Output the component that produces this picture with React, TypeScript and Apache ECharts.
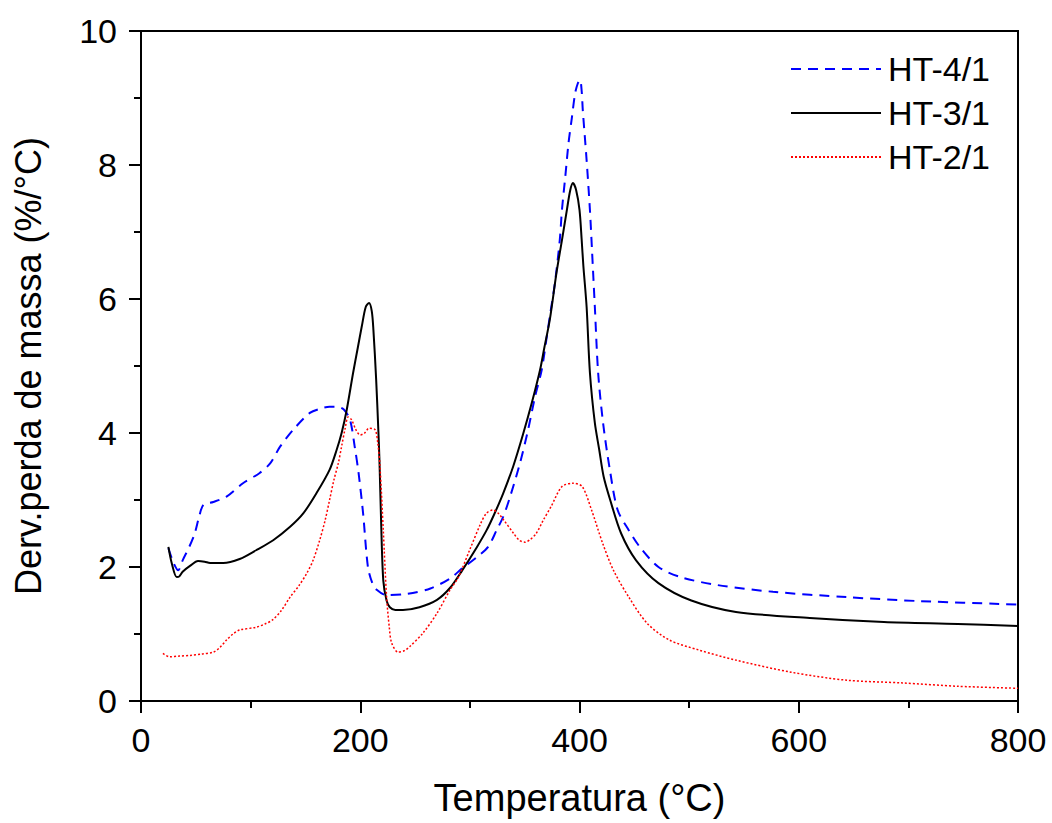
import React, { useEffect, useRef } from "react";
import * as echarts from "echarts";

const seriesNames = ["HT-4/1", "HT-3/1", "HT-2/1"];

const ht41: number[][] = [
  [25, 2.28], [30, 2.05], [34, 1.95], [38, 2.1], [44, 2.3], [49, 2.5], [53, 2.75], [57, 2.93],
  [66, 2.97], [78, 3.05], [93, 3.25], [108, 3.4], [118, 3.55], [127, 3.8], [139, 4.05], [154, 4.3],
  [165, 4.37], [172, 4.39], [179, 4.39], [185, 4.35], [190.6, 4.2], [195, 3.79], [198.5, 3.4],
  [202.6, 2.8], [207, 2.0], [211, 1.76], [215, 1.66], [224, 1.58], [243, 1.6], [264, 1.68],
  [282, 1.83], [293, 1.98], [306.5, 2.15], [316.6, 2.3], [324.4, 2.55], [330.4, 2.75],
  [336.7, 3.05], [345.7, 3.55], [353, 4.04], [359.4, 4.54], [365.5, 4.94], [370, 5.42],
  [373.5, 5.8], [377.6, 6.24], [382, 6.88], [384, 7.33], [387, 7.82], [390, 8.33], [393, 8.7],
  [396, 9.07], [398.5, 9.22], [400.5, 9.27], [402, 9.1], [403, 8.82], [406.5, 8.07], [409.5, 7.33],
  [411.4, 6.73], [414, 5.88], [417, 4.9], [421.5, 4.15], [427.7, 3.45], [434.8, 2.85], [444.9, 2.55],
  [455, 2.3], [472, 2.0], [492, 1.85], [526, 1.73], [576.5, 1.63], [644, 1.55], [711.5, 1.49],
  [800, 1.44],
];

const ht31: number[][] = [
  [25, 2.3], [28, 2.06], [32.6, 1.85], [35, 1.86], [38, 1.93], [45, 2.02], [52, 2.09], [58, 2.08],
  [63, 2.06], [75, 2.06], [90, 2.12], [105, 2.25], [120.6, 2.4], [136, 2.6], [148, 2.8], [160, 3.1],
  [172, 3.45], [178.5, 3.75], [183, 4.0], [187.6, 4.34], [193.5, 4.9], [197.5, 5.25], [201.5, 5.6],
  [205, 5.88], [208, 5.94], [210.5, 5.82], [212, 5.54], [214.5, 4.8], [216.5, 4.04], [217.5, 3.6],
  [219, 2.7], [221, 1.8], [224, 1.5], [227, 1.4], [232, 1.36], [239, 1.36], [254, 1.4], [270, 1.51],
  [282, 1.69], [293, 1.95], [306.5, 2.3], [315.3, 2.55], [322, 2.78], [330.4, 3.1], [339.5, 3.5],
  [348.5, 3.98], [356.5, 4.45], [364, 4.94], [368, 5.28], [373, 5.7], [379, 6.39], [384, 6.88],
  [388.5, 7.33], [391.5, 7.62], [394, 7.73], [397, 7.62], [400, 7.33], [402, 6.88], [403.5, 6.5],
  [406.5, 5.88], [409.5, 4.9], [414, 4.15], [418, 3.75], [422, 3.35], [428, 3.0], [438, 2.5],
  [451.6, 2.1], [472, 1.76], [502, 1.5], [542.7, 1.33], [610, 1.24], [677.7, 1.18], [745, 1.15],
  [800, 1.12],
];

const ht21: number[][] = [
  [20, 0.71], [26, 0.66], [35, 0.67], [45, 0.68], [55, 0.7], [66, 0.73], [72, 0.8], [78, 0.91],
  [84, 1.0], [90, 1.06], [105, 1.1], [113, 1.15], [120, 1.21], [128, 1.35], [136, 1.55], [144, 1.72],
  [151, 1.9], [157, 2.1], [163, 2.4], [168, 2.7], [172, 3.0], [176, 3.3], [180, 3.55], [183, 3.8],
  [186, 4.05], [189, 4.24], [192, 4.2], [196, 4.05], [200, 3.97], [204, 4.0], [208, 4.07],
  [213.5, 4.05], [216, 3.85], [218, 3.5], [221, 2.55], [224, 1.56], [226.5, 1.1], [228.6, 0.87],
  [234.5, 0.73], [240, 0.75], [245, 0.81], [257, 1.01], [270, 1.31], [282, 1.66], [289.6, 1.85],
  [299.7, 2.25], [309.9, 2.65], [315, 2.8], [321, 2.85], [326, 2.8], [330, 2.72], [340, 2.5],
  [345, 2.4], [350.3, 2.37], [355, 2.41], [360.5, 2.5], [367, 2.7], [374, 2.9], [384, 3.2],
  [394, 3.25], [402.5, 3.2], [411, 2.85], [421, 2.36], [431, 1.95], [445, 1.55], [461.7, 1.16],
  [482, 0.91], [509, 0.76], [542.7, 0.61], [593, 0.43], [644, 0.31], [694.6, 0.27], [745, 0.22],
  [800, 0.19],
];

const xName = "Temperatura (°C)";
const yName = "Derv.perda de massa (%/°C)";

const FONT = "'Liberation Sans', Arial, Helvetica, sans-serif";

export default function App() {
  const ref = useRef<HTMLDivElement>(null);
  useEffect(() => {
    if (!ref.current) return;
    const chart = echarts.init(ref.current, undefined, { renderer: "svg" });
    const axisCommon = {
      axisLine: { show: true, lineStyle: { color: "#000", width: 2 } },
      splitLine: { show: false },
      axisTick: { show: true, inside: false, length: 12, lineStyle: { color: "#000", width: 2 } },
      minorTick: { show: true, splitNumber: 2, length: 7, lineStyle: { color: "#000", width: 2 } },
    };
    chart.setOption({
      animation: false,
      backgroundColor: "#fff",
      textStyle: { fontFamily: FONT },
      grid: {
        left: 141, top: 31, right: 34, bottom: 122,
        show: true, borderColor: "#000", borderWidth: 2, backgroundColor: "transparent",
      },
      legend: {
        orient: "vertical",
        left: 785,
        top: 42,
        itemWidth: 90,
        itemHeight: 14,
        itemGap: 0,
        data: seriesNames,
        itemStyle: { opacity: 0 },
        textStyle: { fontSize: 34, color: "#000", fontFamily: FONT, lineHeight: 44, padding: [0, 0, 0, 2] },
      },
      xAxis: {
        type: "value",
        min: 0, max: 800, interval: 200,
        name: xName,
        nameLocation: "middle",
        nameGap: 78,
        nameTextStyle: { fontSize: 38, color: "#000", fontFamily: FONT },
        axisLabel: { fontSize: 34, color: "#000", margin: 22, fontFamily: FONT },
        ...axisCommon,
      },
      yAxis: {
        type: "value",
        min: 0, max: 10, interval: 2,
        name: yName,
        nameLocation: "middle",
        nameGap: 95,
        nameTextStyle: { fontSize: 36, color: "#000", fontFamily: FONT },
        axisLabel: { fontSize: 34, color: "#000", margin: 24, fontFamily: FONT },
        ...axisCommon,
      },
      series: [
        {
          name: seriesNames[0], type: "line", data: ht41, symbol: "none", smooth: 0.3,
          lineStyle: { color: "#0000ff", width: 2, type: [10, 7] }, itemStyle: { color: "#0000ff" },
        },
        {
          name: seriesNames[1], type: "line", data: ht31, symbol: "none", smooth: 0.3,
          lineStyle: { color: "#000000", width: 2, type: "solid" }, itemStyle: { color: "#000000" },
        },
        {
          name: seriesNames[2], type: "line", data: ht21, symbol: "none", smooth: 0.3,
          lineStyle: { color: "#ff0000", width: 1.5, type: [2, 2] }, itemStyle: { color: "#ff0000" },
        },
      ],
    });
    return () => chart.dispose();
  }, []);
  return (
    <div
      ref={ref}
      style={{ position: "absolute", left: 0, top: 0, width: 1052, height: 823, background: "#fff" }}
    />
  );
}
